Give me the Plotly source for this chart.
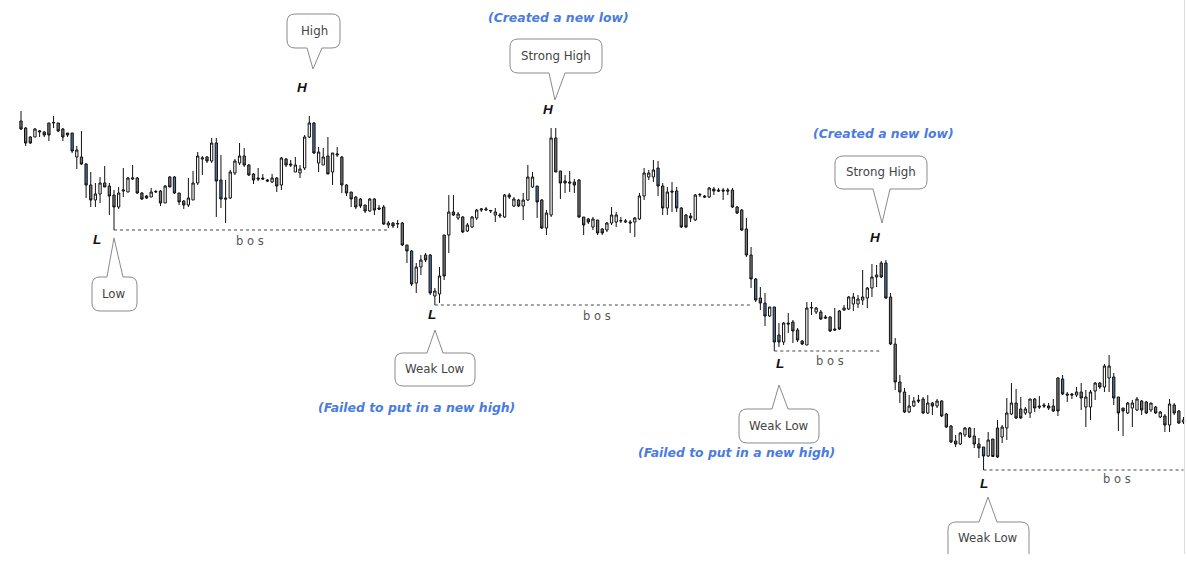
import plotly.graph_objects as go

W, H = 1187, 579

# ---- candle data (price units) ----
opens = [
    479, 472, 463, 463, 468, 468, 477, 477, 477, 471,
    467, 467, 443, 443, 436, 415, 400, 406, 417, 414,
    405, 393, 409, 408, 421, 422, 407, 404, 403, 408,
    409, 397, 423, 423, 407, 399, 395, 400, 417, 441,
    443, 439, 457, 420, 402, 402, 427, 437, 444, 435,
    426, 422, 422, 420, 418, 422, 415, 441, 436, 428,
    427, 432, 463, 477, 437, 435, 444, 428, 445, 443,
    415, 408, 403, 401, 395, 389, 401, 392, 393, 375,
    377, 376, 377, 355, 349, 317, 333, 345, 345, 304,
    306, 365, 365, 388, 382, 383, 369, 373, 382, 390,
    390, 389, 385, 384, 383, 405, 394, 400, 394, 400,
    413, 414, 400, 372, 385, 462, 429, 419, 418, 418,
    420, 383, 381, 373, 380, 371, 370, 377, 378, 379,
    378, 378, 378, 381, 404, 423, 423, 432, 414, 392,
    409, 409, 392, 385, 384, 380, 405, 404, 403, 411,
    410, 410, 410, 410, 393, 390, 371, 345, 321, 302,
    297, 284, 293, 265, 258, 277, 278, 270, 259, 255,
    292, 288, 288, 283, 283, 271, 289, 290, 291, 296,
    296, 300, 302, 312, 323, 337, 337, 303, 256, 218,
    208, 188, 194, 200, 201, 187, 197, 194, 199, 186,
    174, 159, 156, 165, 172, 164, 156, 153, 144, 161,
    172, 163, 172, 186, 197, 191, 187, 187, 201, 194,
    195, 194, 194, 222, 221, 206, 206, 205, 208, 193,
    193, 209, 217, 213, 222, 223, 203, 192, 187, 192,
    190, 199, 198, 190, 193, 183, 184, 175, 195, 189,
    178,
]
highs = [
    489, 473, 464, 472, 470, 469, 477, 484, 477, 472,
    467, 467, 454, 469, 437, 428, 417, 423, 434, 417,
    410, 413, 432, 423, 435, 423, 408, 405, 412, 410,
    410, 415, 424, 424, 407, 400, 422, 429, 448, 444,
    444, 462, 462, 445, 420, 430, 441, 457, 452, 436,
    427, 432, 426, 421, 426, 423, 443, 442, 440, 443,
    435, 465, 484, 478, 453, 452, 463, 447, 453, 444,
    416, 408, 404, 402, 395, 402, 402, 395, 395, 379,
    378, 380, 378, 355, 350, 337, 345, 347, 346, 312,
    333, 365, 405, 405, 388, 384, 377, 384, 391, 392,
    393, 390, 392, 387, 406, 407, 403, 401, 407, 435,
    428, 414, 401, 390, 472, 472, 429, 425, 429, 421,
    421, 383, 382, 383, 380, 372, 378, 393, 388, 383,
    381, 380, 383, 407, 432, 430, 440, 439, 417, 413,
    418, 413, 393, 386, 387, 406, 407, 405, 413, 413,
    412, 412, 412, 412, 394, 391, 382, 353, 322, 313,
    307, 293, 293, 277, 278, 287, 280, 272, 260, 298,
    298, 293, 290, 285, 284, 292, 290, 295, 304, 307,
    305, 330, 313, 336, 335, 339, 340, 307, 262, 225,
    212, 205, 203, 205, 203, 205, 198, 201, 200, 187,
    175, 165, 168, 173, 173, 172, 162, 153, 168, 161,
    180, 175, 202, 217, 211, 203, 193, 201, 202, 204,
    197, 197, 201, 223, 225, 208, 207, 213, 217, 210,
    210, 218, 218, 236, 245, 227, 203, 192, 198, 200,
    203, 200, 199, 197, 194, 189, 186, 201, 197, 190,
    183,
]
lows = [
    470, 454, 456, 463, 463, 463, 459, 472, 468, 459,
    463, 447, 431, 435, 402, 393, 393, 397, 413, 385,
    370, 391, 403, 408, 420, 406, 400, 401, 403, 407,
    394, 397, 413, 406, 395, 391, 393, 400, 415, 425,
    437, 437, 383, 392, 377, 401, 425, 435, 433, 424,
    416, 419, 420, 418, 417, 408, 410, 433, 433, 428,
    422, 430, 462, 446, 428, 435, 426, 415, 443, 407,
    404, 393, 391, 392, 387, 388, 385, 390, 375, 372,
    372, 372, 354, 337, 314, 307, 325, 338, 305, 295,
    297, 320, 347, 384, 380, 367, 368, 372, 380, 388,
    389, 387, 378, 382, 382, 401, 393, 393, 380, 399,
    412, 382, 371, 365, 383, 428, 401, 407, 408, 407,
    382, 365, 376, 370, 365, 365, 368, 375, 373, 377,
    377, 367, 363, 380, 400, 420, 418, 404, 385, 385,
    388, 388, 372, 372, 378, 379, 403, 402, 402, 405,
    408, 400, 405, 392, 386, 369, 343, 312, 298, 290,
    274, 283, 249, 253, 255, 267, 257, 258, 255, 255,
    285, 286, 280, 281, 268, 269, 270, 289, 290, 289,
    292, 295, 292, 303, 313, 322, 301, 255, 210, 197,
    187, 187, 193, 197, 186, 186, 185, 192, 183, 172,
    157, 153, 155, 163, 162, 152, 142, 130, 143, 143,
    142, 157, 160, 185, 181, 181, 185, 182, 188, 191,
    192, 190, 188, 184, 205, 198, 201, 203, 190, 173,
    180, 200, 211, 208, 208, 195, 169, 164, 186, 173,
    189, 185, 186, 188, 186, 182, 168, 168, 185, 176,
    176,
]
closes = [
    471, 457, 457, 471, 469, 465, 465, 477.5, 469, 463,
    465, 449, 450, 436, 415, 400, 406, 417, 413, 404,
    393, 407, 410, 422, 422, 407, 401, 402, 408, 408.5,
    397, 414, 413, 407, 398, 395, 402, 417, 444, 442,
    439, 457, 419, 401, 401, 428, 439, 444, 435, 425,
    420, 421, 421, 419, 422, 414, 442, 435, 435, 435,
    431, 463, 477, 447, 448, 443, 426, 447, 446, 415,
    407, 401, 393, 394, 389, 401, 390, 391, 376, 377,
    374, 376.5, 355, 349, 316, 333, 340, 340, 307, 309,
    324, 324, 388, 385, 386, 368, 375, 383, 390, 391,
    391, 389.5, 388, 385, 405, 403, 401, 394, 400, 423,
    423, 398, 372, 387, 462, 428, 417, 417, 417, 415,
    383, 375, 378, 381, 367, 367, 377, 385, 385, 379.5,
    379, 377, 382, 404, 427, 427, 430, 414, 392, 408,
    408, 392, 373, 373, 382, 405, 405.5, 403, 412, 409,
    409, 409, 409, 393, 387, 370, 345, 321, 300, 297,
    284, 293, 258, 258, 277, 276, 269, 260, 256, 292,
    292.5, 292, 281, 282, 269, 270, 271, 292, 303, 303,
    301, 303, 312, 323, 325, 323, 302, 256, 218, 208,
    188, 194, 199, 199, 187, 197, 194, 199, 184, 173,
    158, 156, 167, 172, 163, 156, 152, 144, 160, 143.5,
    143, 173, 187, 197, 182, 182, 191, 201, 192, 193,
    194, 192, 189, 189, 206, 205, 205, 208, 202, 203,
    208, 217, 213, 234, 234, 202, 187, 189, 197, 197,
    201, 190, 187, 197, 187, 188, 175, 196, 187, 177,
    180,
]
blue_idx = [11, 14, 33, 42, 43, 63, 84, 88, 111, 137, 141, 158, 160, 162,
            186, 207, 224, 235]

# structure: swing candle index -> break index
bos_start = [20, 89, 162, 207]
bos_end = [79, 157, 185, 250]

n = len(opens)
assert len(highs) == n and len(lows) == n and len(closes) == n

normal = [i for i in range(n) if i not in blue_idx]


def sub(arr, ids):
    return [arr[i] for i in ids]


fig = go.Figure()
fig.add_trace(go.Candlestick(
    x=normal, open=sub(opens, normal), high=sub(highs, normal),
    low=sub(lows, normal), close=sub(closes, normal),
    increasing=dict(fillcolor="#ffffff", line=dict(color="#111111", width=1)),
    decreasing=dict(fillcolor="#777777", line=dict(color="#111111", width=1)),
    whiskerwidth=0, hoverinfo="skip", showlegend=False))
fig.add_trace(go.Candlestick(
    x=blue_idx, open=sub(opens, blue_idx), high=sub(highs, blue_idx),
    low=sub(lows, blue_idx), close=sub(closes, blue_idx),
    increasing=dict(fillcolor="#4f6f9f", line=dict(color="#111111", width=1)),
    decreasing=dict(fillcolor="#4f6f9f", line=dict(color="#111111", width=1)),
    whiskerwidth=0, hoverinfo="skip", showlegend=False))

shapes = []
annotations = []

# break-of-structure dotted lines
for s, e in zip(bos_start, bos_end):
    shapes.append(dict(type="line", xref="x", yref="y", x0=s, x1=e,
                       y0=lows[s], y1=lows[s],
                       line=dict(color="#444444", width=1, dash="dot")))


def P(x, y):
    return f"{x / W:.5f},{1 - y / H:.5f}"


def callout(x0, y0, x1, y1, bx0, bx1, tx, ty, side, r=8):
    s = f"M{P(x0 + r, y0)}"
    if side == "top":
        s += f" L{P(bx0, y0)} L{P(tx, ty)} L{P(bx1, y0)}"
    s += f" L{P(x1 - r, y0)} Q{P(x1, y0)} {P(x1, y0 + r)}"
    s += f" L{P(x1, y1 - r)} Q{P(x1, y1)} {P(x1 - r, y1)}"
    if side == "bottom":
        s += f" L{P(bx1, y1)} L{P(tx, ty)} L{P(bx0, y1)}"
    s += f" L{P(x0 + r, y1)} Q{P(x0, y1)} {P(x0, y1 - r)}"
    s += f" L{P(x0, y0 + r)} Q{P(x0, y0)} {P(x0 + r, y0)} Z"
    return dict(type="path", xref="paper", yref="paper", path=s,
                fillcolor="white", line=dict(color="#8a8a8a", width=1), layer="above")


callouts = [
    # x0, y0, x1, y1, base0, base1, tipx, tipy, side, text, cx, cy
    (287, 14, 340, 48, 307, 322, 313, 69, "bottom", "High", 314, 31),
    (510, 39, 602, 73, 549, 565, 555, 100, "bottom", "Strong High", 556, 56),
    (835, 156, 927, 189, 873, 890, 882, 223, "bottom", "Strong High", 881, 172),
    (92, 277, 137, 311, 107, 123, 114, 238, "top", "Low", 114, 294),
    (395, 353, 475, 386, 427, 443, 435, 330, "top", "Weak Low", 435, 369),
    (739, 409, 819, 443, 772, 788, 779, 385, "top", "Weak Low", 779, 426),
    (948, 522, 1029, 566, 979, 997, 988, 497, "top", "Weak Low", 988, 538),
]
for c in callouts:
    shapes.append(callout(*c[:9]))
    annotations.append(dict(xref="paper", yref="paper", x=c[10] / W, y=1 - c[11] / H,
                            text=c[9], showarrow=False, xanchor="center", yanchor="middle",
                            font=dict(family="DejaVu Sans", size=11.8, color="#444444")))

# crop of bottom callout (picture edge)
shapes.append(dict(type="rect", xref="paper", yref="paper", x0=935 / W, x1=1045 / W,
                   y0=0, y1=1 - 554 / H, fillcolor="white", line=dict(width=0), layer="above"))
# faint right frame line
shapes.append(dict(type="line", xref="paper", yref="paper", x0=1184.5 / W, x1=1184.5 / W,
                   y0=1 - 554 / H, y1=1, line=dict(color="#dddddd", width=1)))

# H / L labels
hl_labels = [("H", 302, 88), ("H", 548, 110), ("H", 875, 237),
             ("L", 97, 240), ("L", 432, 314), ("L", 780, 363), ("L", 984, 483)]
for t, x, y in hl_labels:
    annotations.append(dict(xref="paper", yref="paper", x=x / W, y=1 - y / H,
                            text=f"<b><i>{t}</i></b>", showarrow=False,
                            xanchor="center", yanchor="middle",
                            font=dict(family="Liberation Sans", size=13.5, color="#111111")))

# bos texts
for x, y in [(250, 241), (597, 316), (830, 361), (1117, 479)]:
    annotations.append(dict(xref="paper", yref="paper", x=x / W, y=1 - y / H,
                            text="b o s", showarrow=False, xanchor="center", yanchor="middle",
                            font=dict(family="DejaVu Sans", size=11.5, color="#555555")))

# blue commentary
blue_texts = [("(Created a new low)", 558, 17), ("(Created a new low)", 883, 133),
              ("(Failed to put in a new high)", 416, 407),
              ("(Failed to put in a new high)", 736, 452)]
for t, x, y in blue_texts:
    annotations.append(dict(xref="paper", yref="paper", x=x / W, y=1 - y / H,
                            text=f"<b><i>{t}</i></b>", showarrow=False,
                            xanchor="center", yanchor="middle",
                            font=dict(family="DejaVu Sans", size=12.4, color="#4a7be0")))

fig.update_layout(
    width=W, height=H,
    margin=dict(l=0, r=0, t=0, b=0),
    paper_bgcolor="white", plot_bgcolor="white",
    showlegend=False,
    xaxis=dict(range=[-21 / 4.65, (W - 21) / 4.65], visible=False,
               rangeslider=dict(visible=False), fixedrange=True),
    yaxis=dict(range=[600 - H, 600], visible=False, fixedrange=True),
    shapes=shapes,
    annotations=annotations,
)

fig.write_html("out.html", config={"displayModeBar": False},
               post_script="document.body.style.margin='0';")
